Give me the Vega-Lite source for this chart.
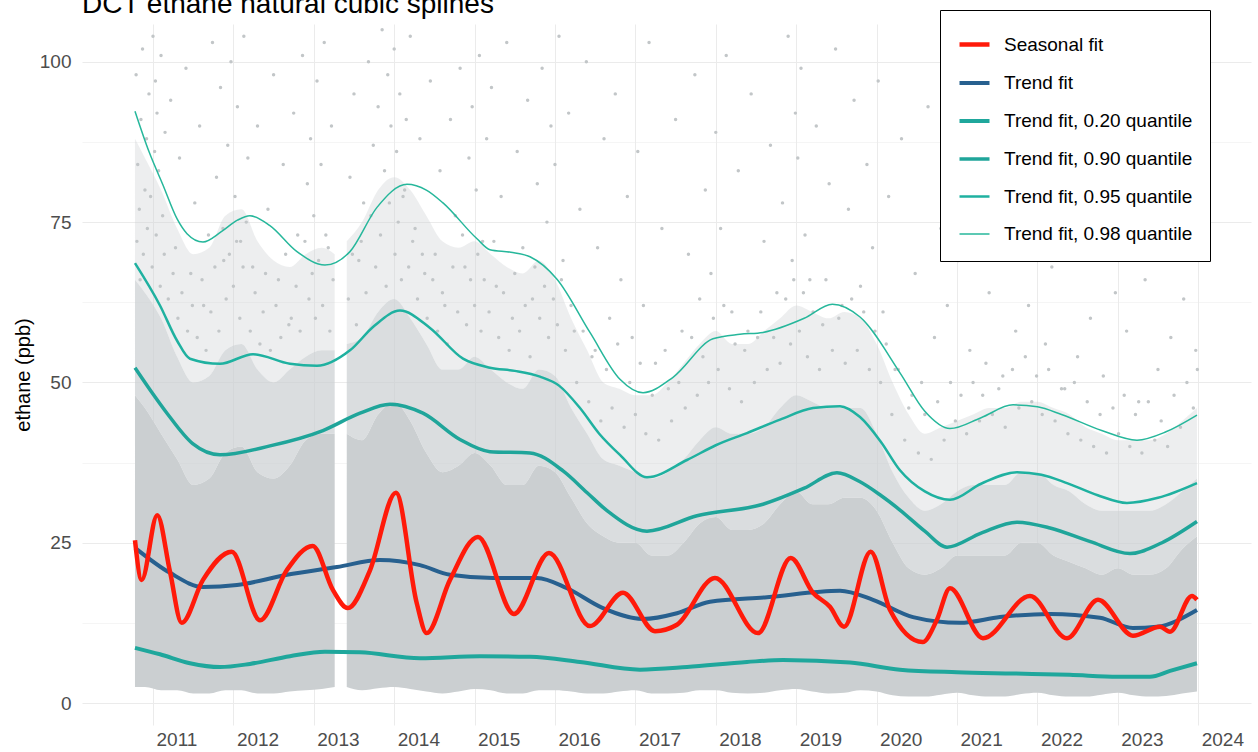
{
  "$schema": "https://vega.github.io/schema/vega-lite/v6.json",
  "width": 1169,
  "height": 701,
  "autosize": {"type": "none"},
  "padding": {"left": 82, "top": 24, "right": 7, "bottom": 27},
  "background": "white",
  "title": {"text": "DCT ethane natural cubic splines", "anchor": "start", "frame": "group", "fontSize": 28, "font": "Liberation Sans", "fontWeight": "normal", "color": "#000000", "baseline": "alphabetic", "offset": -31},
  "config": {
    "view": {"stroke": null},
    "font": "Liberation Sans",
    "axis": {"domain": false, "ticks": false, "gridColor": "#ebebeb", "labelFont": "Liberation Sans", "labelFontSize": 19, "labelColor": "#4d4d4d", "titleFont": "Liberation Sans", "titleFontSize": 20, "titleFontWeight": "normal", "titleColor": "#000000"}
  },
  "datasets": {
    "band": [
      {"seg": "a", "t": 2010.776, "lo": 2.5, "h1": 48, "h2": 66, "h3": 88},
      {"seg": "a", "t": 2010.9, "lo": 2.5, "h1": 46, "h2": 64, "h3": 85},
      {"seg": "a", "t": 2011.1, "lo": 2.0, "h1": 42, "h2": 60, "h3": 80},
      {"seg": "a", "t": 2011.3, "lo": 2.0, "h1": 38, "h2": 54, "h3": 74},
      {"seg": "a", "t": 2011.5, "lo": 1.5, "h1": 34, "h2": 50, "h3": 70},
      {"seg": "a", "t": 2011.7, "lo": 1.5, "h1": 35, "h2": 51, "h3": 71},
      {"seg": "a", "t": 2011.9, "lo": 2.0, "h1": 39, "h2": 55, "h3": 76},
      {"seg": "a", "t": 2012.1, "lo": 2.0, "h1": 40, "h2": 56, "h3": 77},
      {"seg": "a", "t": 2012.3, "lo": 1.5, "h1": 36, "h2": 52, "h3": 72},
      {"seg": "a", "t": 2012.5, "lo": 1.5, "h1": 35, "h2": 50, "h3": 69},
      {"seg": "a", "t": 2012.7, "lo": 1.8, "h1": 37, "h2": 52, "h3": 68},
      {"seg": "a", "t": 2012.9, "lo": 2.0, "h1": 41, "h2": 54, "h3": 70},
      {"seg": "a", "t": 2013.1, "lo": 2.2, "h1": 42, "h2": 55, "h3": 71},
      {"seg": "a", "t": 2013.26, "lo": 2.5, "h1": 42, "h2": 55, "h3": 70},
      {"seg": "b", "t": 2013.41, "lo": 2.5, "h1": 42, "h2": 56, "h3": 72},
      {"seg": "b", "t": 2013.6, "lo": 2.0, "h1": 41, "h2": 57, "h3": 75},
      {"seg": "b", "t": 2013.8, "lo": 2.3, "h1": 45, "h2": 61, "h3": 80},
      {"seg": "b", "t": 2014.0, "lo": 2.5, "h1": 47, "h2": 63, "h3": 82},
      {"seg": "b", "t": 2014.2, "lo": 2.2, "h1": 44, "h2": 60, "h3": 80},
      {"seg": "b", "t": 2014.4, "lo": 1.8, "h1": 39, "h2": 56, "h3": 76},
      {"seg": "b", "t": 2014.6, "lo": 1.5, "h1": 36, "h2": 52, "h3": 72},
      {"seg": "b", "t": 2014.8, "lo": 1.8, "h1": 37, "h2": 52, "h3": 71},
      {"seg": "b", "t": 2015.0, "lo": 2.2, "h1": 39, "h2": 54, "h3": 72},
      {"seg": "b", "t": 2015.2, "lo": 2.0, "h1": 37, "h2": 52, "h3": 70},
      {"seg": "b", "t": 2015.4, "lo": 1.5, "h1": 34, "h2": 50, "h3": 68},
      {"seg": "b", "t": 2015.6, "lo": 1.5, "h1": 34, "h2": 49, "h3": 67},
      {"seg": "b", "t": 2015.8, "lo": 2.0, "h1": 37, "h2": 52, "h3": 69},
      {"seg": "b", "t": 2016.0, "lo": 2.0, "h1": 36, "h2": 51, "h3": 66},
      {"seg": "b", "t": 2016.2, "lo": 1.8, "h1": 32, "h2": 46, "h3": 60},
      {"seg": "b", "t": 2016.4, "lo": 1.5, "h1": 28, "h2": 42, "h3": 55},
      {"seg": "b", "t": 2016.6, "lo": 1.5, "h1": 26, "h2": 38, "h3": 50},
      {"seg": "b", "t": 2016.8, "lo": 1.8, "h1": 25, "h2": 37, "h3": 49},
      {"seg": "b", "t": 2017.0, "lo": 2.0, "h1": 25, "h2": 36, "h3": 48},
      {"seg": "b", "t": 2017.2, "lo": 1.5, "h1": 23, "h2": 35, "h3": 48},
      {"seg": "b", "t": 2017.4, "lo": 1.5, "h1": 23, "h2": 36, "h3": 50},
      {"seg": "b", "t": 2017.6, "lo": 1.6, "h1": 25, "h2": 38, "h3": 53},
      {"seg": "b", "t": 2017.8, "lo": 2.0, "h1": 28, "h2": 41, "h3": 56},
      {"seg": "b", "t": 2018.0, "lo": 2.0, "h1": 29, "h2": 43, "h3": 58},
      {"seg": "b", "t": 2018.2, "lo": 1.6, "h1": 27, "h2": 42, "h3": 56},
      {"seg": "b", "t": 2018.4, "lo": 1.5, "h1": 27, "h2": 42, "h3": 56},
      {"seg": "b", "t": 2018.6, "lo": 1.6, "h1": 28, "h2": 43, "h3": 58},
      {"seg": "b", "t": 2018.8, "lo": 2.0, "h1": 31, "h2": 46, "h3": 60},
      {"seg": "b", "t": 2019.0, "lo": 2.2, "h1": 33, "h2": 48, "h3": 62},
      {"seg": "b", "t": 2019.2, "lo": 1.8, "h1": 31, "h2": 47, "h3": 61},
      {"seg": "b", "t": 2019.4, "lo": 1.5, "h1": 31, "h2": 46, "h3": 60},
      {"seg": "b", "t": 2019.6, "lo": 1.6, "h1": 32, "h2": 46, "h3": 61},
      {"seg": "b", "t": 2019.8, "lo": 2.0, "h1": 32, "h2": 46, "h3": 60},
      {"seg": "b", "t": 2020.0, "lo": 1.8, "h1": 30, "h2": 42, "h3": 56},
      {"seg": "b", "t": 2020.2, "lo": 1.2, "h1": 25, "h2": 36, "h3": 50},
      {"seg": "b", "t": 2020.4, "lo": 1.0, "h1": 21, "h2": 32, "h3": 45},
      {"seg": "b", "t": 2020.6, "lo": 1.0, "h1": 20, "h2": 30, "h3": 42},
      {"seg": "b", "t": 2020.8, "lo": 1.3, "h1": 21, "h2": 31, "h3": 43},
      {"seg": "b", "t": 2021.0, "lo": 1.6, "h1": 23, "h2": 33, "h3": 44},
      {"seg": "b", "t": 2021.2, "lo": 1.2, "h1": 23, "h2": 34, "h3": 45},
      {"seg": "b", "t": 2021.4, "lo": 1.0, "h1": 23, "h2": 34, "h3": 46},
      {"seg": "b", "t": 2021.6, "lo": 1.0, "h1": 23, "h2": 34, "h3": 46},
      {"seg": "b", "t": 2021.8, "lo": 1.4, "h1": 25, "h2": 36, "h3": 47},
      {"seg": "b", "t": 2022.0, "lo": 1.6, "h1": 25, "h2": 36, "h3": 47},
      {"seg": "b", "t": 2022.2, "lo": 1.2, "h1": 23, "h2": 34, "h3": 46},
      {"seg": "b", "t": 2022.4, "lo": 1.0, "h1": 22, "h2": 33, "h3": 45},
      {"seg": "b", "t": 2022.6, "lo": 1.0, "h1": 21, "h2": 31, "h3": 43},
      {"seg": "b", "t": 2022.8, "lo": 1.3, "h1": 20, "h2": 30, "h3": 42},
      {"seg": "b", "t": 2023.0, "lo": 1.6, "h1": 21, "h2": 30, "h3": 41},
      {"seg": "b", "t": 2023.2, "lo": 1.2, "h1": 20, "h2": 30, "h3": 41},
      {"seg": "b", "t": 2023.4, "lo": 1.0, "h1": 20, "h2": 30, "h3": 41},
      {"seg": "b", "t": 2023.6, "lo": 1.1, "h1": 21, "h2": 31, "h3": 42},
      {"seg": "b", "t": 2023.8, "lo": 1.5, "h1": 24, "h2": 33, "h3": 44},
      {"seg": "b", "t": 2023.985, "lo": 1.8, "h1": 26, "h2": 35, "h3": 46}
    ],
    "pts": [
      {"t": 2010.79, "v": 98}, {"t": 2010.81, "v": 84}, {"t": 2010.83, "v": 77}, {"t": 2010.85, "v": 91}, {"t": 2010.87, "v": 102}, {"t": 2010.9, "v": 80}, {"t": 2010.92, "v": 88}, {"t": 2010.95, "v": 95}, {"t": 2010.97, "v": 79}, {"t": 2011.0, "v": 104}, {"t": 2011.02, "v": 86}, {"t": 2011.03, "v": 97}, {"t": 2011.05, "v": 92}, {"t": 2011.07, "v": 83}, {"t": 2011.1, "v": 101}, {"t": 2011.12, "v": 76}, {"t": 2011.15, "v": 89},
      {"t": 2011.22, "v": 94}, {"t": 2011.28, "v": 71}, {"t": 2011.33, "v": 85}, {"t": 2011.41, "v": 99}, {"t": 2011.47, "v": 67}, {"t": 2011.52, "v": 78}, {"t": 2011.58, "v": 90}, {"t": 2011.63, "v": 62}, {"t": 2011.69, "v": 73}, {"t": 2011.74, "v": 103}, {"t": 2011.79, "v": 82}, {"t": 2011.84, "v": 96}, {"t": 2011.88, "v": 69}, {"t": 2011.93, "v": 87},
      {"t": 2011.97, "v": 100}, {"t": 2012.02, "v": 79}, {"t": 2012.05, "v": 93}, {"t": 2012.09, "v": 72}, {"t": 2012.13, "v": 104}, {"t": 2012.18, "v": 85}, {"t": 2012.24, "v": 68}, {"t": 2012.3, "v": 90}, {"t": 2012.37, "v": 61}, {"t": 2012.43, "v": 77}, {"t": 2012.5, "v": 98}, {"t": 2012.56, "v": 66}, {"t": 2012.62, "v": 84}, {"t": 2012.69, "v": 59}, {"t": 2012.75, "v": 92}, {"t": 2012.8, "v": 73}, {"t": 2012.86, "v": 101}, {"t": 2012.92, "v": 81}, {"t": 2012.96, "v": 88},
      {"t": 2013.0, "v": 76}, {"t": 2013.04, "v": 97}, {"t": 2013.09, "v": 84}, {"t": 2013.13, "v": 103}, {"t": 2013.18, "v": 71}, {"t": 2013.22, "v": 90}, {"t": 2013.45, "v": 82}, {"t": 2013.5, "v": 95}, {"t": 2013.56, "v": 69}, {"t": 2013.62, "v": 78}, {"t": 2013.68, "v": 100}, {"t": 2013.74, "v": 87}, {"t": 2013.8, "v": 93}, {"t": 2013.85, "v": 105}, {"t": 2013.88, "v": 83}, {"t": 2013.92, "v": 98}, {"t": 2013.96, "v": 90},
      {"t": 2014.0, "v": 102}, {"t": 2014.03, "v": 86}, {"t": 2014.07, "v": 95}, {"t": 2014.11, "v": 79}, {"t": 2014.15, "v": 91}, {"t": 2014.2, "v": 104}, {"t": 2014.26, "v": 74}, {"t": 2014.32, "v": 88}, {"t": 2014.38, "v": 67}, {"t": 2014.45, "v": 97}, {"t": 2014.51, "v": 70}, {"t": 2014.57, "v": 83}, {"t": 2014.63, "v": 62}, {"t": 2014.7, "v": 91}, {"t": 2014.76, "v": 76}, {"t": 2014.82, "v": 99}, {"t": 2014.88, "v": 68}, {"t": 2014.93, "v": 85}, {"t": 2014.97, "v": 93},
      {"t": 2015.02, "v": 80}, {"t": 2015.06, "v": 101}, {"t": 2015.1, "v": 72}, {"t": 2015.15, "v": 88}, {"t": 2015.21, "v": 96}, {"t": 2015.27, "v": 65}, {"t": 2015.33, "v": 79}, {"t": 2015.4, "v": 103}, {"t": 2015.47, "v": 60}, {"t": 2015.53, "v": 86}, {"t": 2015.6, "v": 71}, {"t": 2015.66, "v": 94}, {"t": 2015.72, "v": 63}, {"t": 2015.78, "v": 81}, {"t": 2015.84, "v": 99}, {"t": 2015.9, "v": 75}, {"t": 2015.95, "v": 90},
      {"t": 2016.0, "v": 84}, {"t": 2016.05, "v": 104}, {"t": 2016.1, "v": 69}, {"t": 2016.17, "v": 92}, {"t": 2016.24, "v": 58}, {"t": 2016.31, "v": 77}, {"t": 2016.39, "v": 100}, {"t": 2016.46, "v": 54}, {"t": 2016.53, "v": 71}, {"t": 2016.61, "v": 88}, {"t": 2016.68, "v": 60}, {"t": 2016.75, "v": 95}, {"t": 2016.82, "v": 66}, {"t": 2016.9, "v": 79}, {"t": 2016.96, "v": 57},
      {"t": 2017.03, "v": 86}, {"t": 2017.1, "v": 62}, {"t": 2017.17, "v": 103}, {"t": 2017.25, "v": 53}, {"t": 2017.33, "v": 74}, {"t": 2017.41, "v": 49}, {"t": 2017.5, "v": 91}, {"t": 2017.58, "v": 58}, {"t": 2017.66, "v": 70}, {"t": 2017.74, "v": 98}, {"t": 2017.8, "v": 63}, {"t": 2017.87, "v": 80}, {"t": 2017.94, "v": 67},
      {"t": 2018.0, "v": 89}, {"t": 2018.06, "v": 74}, {"t": 2018.13, "v": 101}, {"t": 2018.2, "v": 61}, {"t": 2018.28, "v": 83}, {"t": 2018.36, "v": 55}, {"t": 2018.44, "v": 95}, {"t": 2018.52, "v": 57}, {"t": 2018.6, "v": 72}, {"t": 2018.68, "v": 87}, {"t": 2018.76, "v": 64}, {"t": 2018.83, "v": 78}, {"t": 2018.9, "v": 104}, {"t": 2018.95, "v": 69}, {"t": 2018.99, "v": 92},
      {"t": 2019.02, "v": 85}, {"t": 2019.06, "v": 99}, {"t": 2019.11, "v": 73}, {"t": 2019.17, "v": 66}, {"t": 2019.25, "v": 90}, {"t": 2019.33, "v": 59}, {"t": 2019.41, "v": 81}, {"t": 2019.49, "v": 102}, {"t": 2019.57, "v": 62}, {"t": 2019.65, "v": 77}, {"t": 2019.72, "v": 94}, {"t": 2019.8, "v": 65}, {"t": 2019.88, "v": 84}, {"t": 2019.95, "v": 71},
      {"t": 2020.02, "v": 97}, {"t": 2020.08, "v": 61}, {"t": 2020.15, "v": 79}, {"t": 2020.23, "v": 52}, {"t": 2020.31, "v": 88}, {"t": 2020.4, "v": 46}, {"t": 2020.48, "v": 67}, {"t": 2020.56, "v": 50}, {"t": 2020.64, "v": 93}, {"t": 2020.72, "v": 57}, {"t": 2020.8, "v": 74}, {"t": 2020.88, "v": 62}, {"t": 2020.95, "v": 84},
      {"t": 2021.02, "v": 69}, {"t": 2021.09, "v": 101}, {"t": 2021.16, "v": 55}, {"t": 2021.24, "v": 78}, {"t": 2021.32, "v": 48}, {"t": 2021.4, "v": 64}, {"t": 2021.48, "v": 86}, {"t": 2021.57, "v": 51}, {"t": 2021.65, "v": 72}, {"t": 2021.73, "v": 58}, {"t": 2021.81, "v": 95}, {"t": 2021.89, "v": 62}, {"t": 2021.96, "v": 76},
      {"t": 2022.03, "v": 83}, {"t": 2022.1, "v": 56}, {"t": 2022.18, "v": 68}, {"t": 2022.26, "v": 99}, {"t": 2022.34, "v": 49}, {"t": 2022.42, "v": 73}, {"t": 2022.5, "v": 54}, {"t": 2022.58, "v": 88}, {"t": 2022.66, "v": 60}, {"t": 2022.74, "v": 71}, {"t": 2022.82, "v": 51}, {"t": 2022.9, "v": 80}, {"t": 2022.97, "v": 64},
      {"t": 2023.04, "v": 92}, {"t": 2023.11, "v": 58}, {"t": 2023.18, "v": 75}, {"t": 2023.26, "v": 47}, {"t": 2023.34, "v": 66}, {"t": 2023.42, "v": 85}, {"t": 2023.5, "v": 52}, {"t": 2023.58, "v": 70}, {"t": 2023.66, "v": 57}, {"t": 2023.74, "v": 97}, {"t": 2023.82, "v": 63}, {"t": 2023.9, "v": 78}, {"t": 2023.97, "v": 55},
      {"t": 2010.8, "v": 72}, {"t": 2010.84, "v": 66}, {"t": 2010.88, "v": 70}, {"t": 2010.93, "v": 74}, {"t": 2010.99, "v": 68}, {"t": 2011.04, "v": 73}, {"t": 2011.09, "v": 65}, {"t": 2011.14, "v": 70}, {"t": 2011.19, "v": 63}, {"t": 2011.25, "v": 67}, {"t": 2011.31, "v": 60}, {"t": 2011.36, "v": 64}, {"t": 2011.43, "v": 58}, {"t": 2011.49, "v": 62}, {"t": 2011.55, "v": 57}, {"t": 2011.61, "v": 66}, {"t": 2011.66, "v": 55}, {"t": 2011.72, "v": 61}, {"t": 2011.77, "v": 68}, {"t": 2011.82, "v": 58}, {"t": 2011.87, "v": 74}, {"t": 2011.91, "v": 63}, {"t": 2011.95, "v": 70},
      {"t": 2012.0, "v": 65}, {"t": 2012.04, "v": 72}, {"t": 2012.08, "v": 60}, {"t": 2012.12, "v": 68}, {"t": 2012.16, "v": 75}, {"t": 2012.21, "v": 58}, {"t": 2012.27, "v": 64}, {"t": 2012.33, "v": 56}, {"t": 2012.4, "v": 67}, {"t": 2012.46, "v": 55}, {"t": 2012.53, "v": 62}, {"t": 2012.59, "v": 57}, {"t": 2012.65, "v": 70}, {"t": 2012.72, "v": 60}, {"t": 2012.78, "v": 65}, {"t": 2012.83, "v": 58}, {"t": 2012.89, "v": 72}, {"t": 2012.94, "v": 63}, {"t": 2012.98, "v": 67},
      {"t": 2013.02, "v": 60}, {"t": 2013.06, "v": 69}, {"t": 2013.11, "v": 62}, {"t": 2013.15, "v": 73}, {"t": 2013.2, "v": 58}, {"t": 2013.24, "v": 66}, {"t": 2013.43, "v": 63}, {"t": 2013.48, "v": 70}, {"t": 2013.53, "v": 59}, {"t": 2013.59, "v": 72}, {"t": 2013.65, "v": 64}, {"t": 2013.71, "v": 76}, {"t": 2013.77, "v": 68}, {"t": 2013.83, "v": 73}, {"t": 2013.9, "v": 65}, {"t": 2013.94, "v": 78},
      {"t": 2014.01, "v": 70}, {"t": 2014.05, "v": 75}, {"t": 2014.09, "v": 66}, {"t": 2014.13, "v": 80}, {"t": 2014.18, "v": 68}, {"t": 2014.23, "v": 72}, {"t": 2014.29, "v": 63}, {"t": 2014.35, "v": 70}, {"t": 2014.41, "v": 60}, {"t": 2014.48, "v": 66}, {"t": 2014.54, "v": 58}, {"t": 2014.6, "v": 64}, {"t": 2014.66, "v": 56}, {"t": 2014.73, "v": 68}, {"t": 2014.79, "v": 61}, {"t": 2014.85, "v": 73}, {"t": 2014.9, "v": 59}, {"t": 2014.95, "v": 66},
      {"t": 2015.0, "v": 62}, {"t": 2015.04, "v": 70}, {"t": 2015.08, "v": 58}, {"t": 2015.12, "v": 66}, {"t": 2015.18, "v": 61}, {"t": 2015.24, "v": 72}, {"t": 2015.3, "v": 57}, {"t": 2015.36, "v": 64}, {"t": 2015.43, "v": 55}, {"t": 2015.5, "v": 67}, {"t": 2015.56, "v": 58}, {"t": 2015.63, "v": 62}, {"t": 2015.69, "v": 54}, {"t": 2015.75, "v": 68}, {"t": 2015.81, "v": 60}, {"t": 2015.87, "v": 65}, {"t": 2015.92, "v": 57}, {"t": 2015.98, "v": 63},
      {"t": 2016.03, "v": 59}, {"t": 2016.08, "v": 66}, {"t": 2016.13, "v": 55}, {"t": 2016.2, "v": 62}, {"t": 2016.27, "v": 50}, {"t": 2016.35, "v": 58}, {"t": 2016.42, "v": 47}, {"t": 2016.5, "v": 55}, {"t": 2016.57, "v": 44}, {"t": 2016.64, "v": 52}, {"t": 2016.71, "v": 46}, {"t": 2016.78, "v": 56}, {"t": 2016.86, "v": 43}, {"t": 2016.93, "v": 50},
      {"t": 2017.0, "v": 45}, {"t": 2017.06, "v": 53}, {"t": 2017.13, "v": 42}, {"t": 2017.21, "v": 48}, {"t": 2017.29, "v": 41}, {"t": 2017.37, "v": 55}, {"t": 2017.45, "v": 44}, {"t": 2017.54, "v": 50}, {"t": 2017.62, "v": 46}, {"t": 2017.7, "v": 57}, {"t": 2017.77, "v": 48}, {"t": 2017.84, "v": 54}, {"t": 2017.91, "v": 50}, {"t": 2017.97, "v": 60},
      {"t": 2018.03, "v": 52}, {"t": 2018.1, "v": 62}, {"t": 2018.17, "v": 49}, {"t": 2018.24, "v": 56}, {"t": 2018.32, "v": 47}, {"t": 2018.4, "v": 58}, {"t": 2018.48, "v": 50}, {"t": 2018.56, "v": 61}, {"t": 2018.64, "v": 52}, {"t": 2018.72, "v": 57}, {"t": 2018.8, "v": 53}, {"t": 2018.87, "v": 63}, {"t": 2018.93, "v": 56}, {"t": 2018.97, "v": 66},
      {"t": 2019.04, "v": 58}, {"t": 2019.09, "v": 64}, {"t": 2019.14, "v": 54}, {"t": 2019.21, "v": 61}, {"t": 2019.29, "v": 52}, {"t": 2019.37, "v": 66}, {"t": 2019.45, "v": 55}, {"t": 2019.53, "v": 60}, {"t": 2019.61, "v": 53}, {"t": 2019.69, "v": 63}, {"t": 2019.76, "v": 55}, {"t": 2019.84, "v": 61}, {"t": 2019.91, "v": 52}, {"t": 2019.98, "v": 58},
      {"t": 2020.05, "v": 50}, {"t": 2020.12, "v": 56}, {"t": 2020.19, "v": 45}, {"t": 2020.27, "v": 52}, {"t": 2020.35, "v": 41}, {"t": 2020.44, "v": 48}, {"t": 2020.52, "v": 39}, {"t": 2020.6, "v": 45}, {"t": 2020.68, "v": 38}, {"t": 2020.76, "v": 47}, {"t": 2020.84, "v": 41}, {"t": 2020.92, "v": 50}, {"t": 2020.98, "v": 44},
      {"t": 2021.05, "v": 48}, {"t": 2021.12, "v": 42}, {"t": 2021.2, "v": 50}, {"t": 2021.28, "v": 44}, {"t": 2021.36, "v": 53}, {"t": 2021.44, "v": 45}, {"t": 2021.52, "v": 49}, {"t": 2021.6, "v": 43}, {"t": 2021.69, "v": 52}, {"t": 2021.77, "v": 46}, {"t": 2021.85, "v": 54}, {"t": 2021.93, "v": 47}, {"t": 2021.99, "v": 51},
      {"t": 2022.06, "v": 45}, {"t": 2022.14, "v": 52}, {"t": 2022.22, "v": 44}, {"t": 2022.3, "v": 49}, {"t": 2022.38, "v": 42}, {"t": 2022.46, "v": 50}, {"t": 2022.54, "v": 41}, {"t": 2022.62, "v": 47}, {"t": 2022.7, "v": 40}, {"t": 2022.78, "v": 45}, {"t": 2022.86, "v": 39}, {"t": 2022.94, "v": 46},
      {"t": 2023.01, "v": 42}, {"t": 2023.08, "v": 48}, {"t": 2023.15, "v": 40}, {"t": 2023.22, "v": 45}, {"t": 2023.3, "v": 39}, {"t": 2023.38, "v": 47}, {"t": 2023.46, "v": 41}, {"t": 2023.54, "v": 44}, {"t": 2023.62, "v": 40}, {"t": 2023.7, "v": 48}, {"t": 2023.78, "v": 43}, {"t": 2023.86, "v": 50}, {"t": 2023.94, "v": 46}, {"t": 2023.99, "v": 52}
    ],
    "fits": [
      {"s": "Trend fit, 0.98 quantile", "t": 2010.776, "v": 92.3}, {"s": "Trend fit, 0.98 quantile", "t": 2010.95, "v": 86}, {"s": "Trend fit, 0.98 quantile", "t": 2011.124, "v": 80.8}, {"s": "Trend fit, 0.98 quantile", "t": 2011.3, "v": 75.5}, {"s": "Trend fit, 0.98 quantile", "t": 2011.423, "v": 73.2}, {"s": "Trend fit, 0.98 quantile", "t": 2011.622, "v": 71.9}, {"s": "Trend fit, 0.98 quantile", "t": 2011.85, "v": 73.5}, {"s": "Trend fit, 0.98 quantile", "t": 2012.05, "v": 75.3}, {"s": "Trend fit, 0.98 quantile", "t": 2012.206, "v": 76.0}, {"s": "Trend fit, 0.98 quantile", "t": 2012.45, "v": 74.5}, {"s": "Trend fit, 0.98 quantile", "t": 2012.791, "v": 70.4}, {"s": "Trend fit, 0.98 quantile", "t": 2013.139, "v": 68.3}, {"s": "Trend fit, 0.98 quantile", "t": 2013.45, "v": 70.4}, {"s": "Trend fit, 0.98 quantile", "t": 2013.786, "v": 77.3}, {"s": "Trend fit, 0.98 quantile", "t": 2014.159, "v": 80.9}, {"s": "Trend fit, 0.98 quantile", "t": 2014.4, "v": 80.0}, {"s": "Trend fit, 0.98 quantile", "t": 2014.607, "v": 78.0}, {"s": "Trend fit, 0.98 quantile", "t": 2015.03, "v": 72.4}, {"s": "Trend fit, 0.98 quantile", "t": 2015.191, "v": 70.7}, {"s": "Trend fit, 0.98 quantile", "t": 2015.45, "v": 70.3}, {"s": "Trend fit, 0.98 quantile", "t": 2015.689, "v": 69.6}, {"s": "Trend fit, 0.98 quantile", "t": 2016.025, "v": 66.1}, {"s": "Trend fit, 0.98 quantile", "t": 2016.435, "v": 57.8}, {"s": "Trend fit, 0.98 quantile", "t": 2016.808, "v": 50.5}, {"s": "Trend fit, 0.98 quantile", "t": 2017.095, "v": 48.4}, {"s": "Trend fit, 0.98 quantile", "t": 2017.468, "v": 50.8}, {"s": "Trend fit, 0.98 quantile", "t": 2017.965, "v": 56.8}, {"s": "Trend fit, 0.98 quantile", "t": 2018.3, "v": 57.5}, {"s": "Trend fit, 0.98 quantile", "t": 2018.587, "v": 57.8}, {"s": "Trend fit, 0.98 quantile", "t": 2019.1, "v": 60.0}, {"s": "Trend fit, 0.98 quantile", "t": 2019.45, "v": 62.2}, {"s": "Trend fit, 0.98 quantile", "t": 2019.794, "v": 60.2}, {"s": "Trend fit, 0.98 quantile", "t": 2020.291, "v": 51.5}, {"s": "Trend fit, 0.98 quantile", "t": 2020.6, "v": 45.5}, {"s": "Trend fit, 0.98 quantile", "t": 2020.913, "v": 42.8}, {"s": "Trend fit, 0.98 quantile", "t": 2021.3, "v": 44.5}, {"s": "Trend fit, 0.98 quantile", "t": 2021.697, "v": 46.5}, {"s": "Trend fit, 0.98 quantile", "t": 2022.0, "v": 46.2}, {"s": "Trend fit, 0.98 quantile", "t": 2022.3, "v": 45.0}, {"s": "Trend fit, 0.98 quantile", "t": 2022.8, "v": 42.5}, {"s": "Trend fit, 0.98 quantile", "t": 2023.239, "v": 41.0}, {"s": "Trend fit, 0.98 quantile", "t": 2023.6, "v": 42.3}, {"s": "Trend fit, 0.98 quantile", "t": 2023.985, "v": 44.9},
      {"s": "Trend fit, 0.95 quantile", "t": 2010.776, "v": 68.6}, {"s": "Trend fit, 0.95 quantile", "t": 2011.087, "v": 62.0}, {"s": "Trend fit, 0.95 quantile", "t": 2011.3, "v": 56.5}, {"s": "Trend fit, 0.95 quantile", "t": 2011.46, "v": 53.7}, {"s": "Trend fit, 0.95 quantile", "t": 2011.833, "v": 52.9}, {"s": "Trend fit, 0.95 quantile", "t": 2012.244, "v": 54.4}, {"s": "Trend fit, 0.95 quantile", "t": 2012.704, "v": 52.9}, {"s": "Trend fit, 0.95 quantile", "t": 2013.04, "v": 52.6}, {"s": "Trend fit, 0.95 quantile", "t": 2013.45, "v": 55.0}, {"s": "Trend fit, 0.95 quantile", "t": 2013.75, "v": 58.8}, {"s": "Trend fit, 0.95 quantile", "t": 2014.072, "v": 61.2}, {"s": "Trend fit, 0.95 quantile", "t": 2014.445, "v": 58.5}, {"s": "Trend fit, 0.95 quantile", "t": 2014.856, "v": 53.7}, {"s": "Trend fit, 0.95 quantile", "t": 2015.191, "v": 52.3}, {"s": "Trend fit, 0.95 quantile", "t": 2015.5, "v": 51.8}, {"s": "Trend fit, 0.95 quantile", "t": 2015.813, "v": 50.9}, {"s": "Trend fit, 0.95 quantile", "t": 2016.05, "v": 49.5}, {"s": "Trend fit, 0.95 quantile", "t": 2016.311, "v": 46.0}, {"s": "Trend fit, 0.95 quantile", "t": 2016.55, "v": 42.0}, {"s": "Trend fit, 0.95 quantile", "t": 2016.808, "v": 38.7}, {"s": "Trend fit, 0.95 quantile", "t": 2017.144, "v": 35.2}, {"s": "Trend fit, 0.95 quantile", "t": 2017.642, "v": 37.9}, {"s": "Trend fit, 0.95 quantile", "t": 2018.0, "v": 40.2}, {"s": "Trend fit, 0.95 quantile", "t": 2018.388, "v": 42.1}, {"s": "Trend fit, 0.95 quantile", "t": 2018.8, "v": 44.2}, {"s": "Trend fit, 0.95 quantile", "t": 2019.209, "v": 46.0}, {"s": "Trend fit, 0.95 quantile", "t": 2019.545, "v": 46.3}, {"s": "Trend fit, 0.95 quantile", "t": 2019.794, "v": 44.6}, {"s": "Trend fit, 0.95 quantile", "t": 2020.05, "v": 40.8}, {"s": "Trend fit, 0.95 quantile", "t": 2020.291, "v": 36.3}, {"s": "Trend fit, 0.95 quantile", "t": 2020.6, "v": 33.0}, {"s": "Trend fit, 0.95 quantile", "t": 2020.913, "v": 31.7}, {"s": "Trend fit, 0.95 quantile", "t": 2021.3, "v": 34.2}, {"s": "Trend fit, 0.95 quantile", "t": 2021.746, "v": 36.0}, {"s": "Trend fit, 0.95 quantile", "t": 2022.05, "v": 35.6}, {"s": "Trend fit, 0.95 quantile", "t": 2022.368, "v": 34.3}, {"s": "Trend fit, 0.95 quantile", "t": 2022.75, "v": 32.4}, {"s": "Trend fit, 0.95 quantile", "t": 2023.114, "v": 31.2}, {"s": "Trend fit, 0.95 quantile", "t": 2023.5, "v": 32.0}, {"s": "Trend fit, 0.95 quantile", "t": 2023.985, "v": 34.3},
      {"s": "Trend fit, 0.90 quantile", "t": 2010.776, "v": 52.3}, {"s": "Trend fit, 0.90 quantile", "t": 2011.0, "v": 48.2}, {"s": "Trend fit, 0.90 quantile", "t": 2011.174, "v": 45.2}, {"s": "Trend fit, 0.90 quantile", "t": 2011.498, "v": 40.4}, {"s": "Trend fit, 0.90 quantile", "t": 2011.833, "v": 38.7}, {"s": "Trend fit, 0.90 quantile", "t": 2012.455, "v": 40.1}, {"s": "Trend fit, 0.90 quantile", "t": 2013.114, "v": 42.5}, {"s": "Trend fit, 0.90 quantile", "t": 2013.575, "v": 45.2}, {"s": "Trend fit, 0.90 quantile", "t": 2013.948, "v": 46.6}, {"s": "Trend fit, 0.90 quantile", "t": 2014.358, "v": 45.2}, {"s": "Trend fit, 0.90 quantile", "t": 2014.818, "v": 41.1}, {"s": "Trend fit, 0.90 quantile", "t": 2015.191, "v": 39.2}, {"s": "Trend fit, 0.90 quantile", "t": 2015.689, "v": 39.0}, {"s": "Trend fit, 0.90 quantile", "t": 2016.1, "v": 36.2}, {"s": "Trend fit, 0.90 quantile", "t": 2016.4, "v": 32.8}, {"s": "Trend fit, 0.90 quantile", "t": 2016.647, "v": 30.0}, {"s": "Trend fit, 0.90 quantile", "t": 2017.144, "v": 26.8}, {"s": "Trend fit, 0.90 quantile", "t": 2017.766, "v": 29.2}, {"s": "Trend fit, 0.90 quantile", "t": 2018.587, "v": 31.0}, {"s": "Trend fit, 0.90 quantile", "t": 2019.1, "v": 33.5}, {"s": "Trend fit, 0.90 quantile", "t": 2019.507, "v": 35.9}, {"s": "Trend fit, 0.90 quantile", "t": 2019.794, "v": 34.5}, {"s": "Trend fit, 0.90 quantile", "t": 2020.05, "v": 32.4}, {"s": "Trend fit, 0.90 quantile", "t": 2020.291, "v": 30.1}, {"s": "Trend fit, 0.90 quantile", "t": 2020.6, "v": 26.8}, {"s": "Trend fit, 0.90 quantile", "t": 2020.876, "v": 24.3}, {"s": "Trend fit, 0.90 quantile", "t": 2021.3, "v": 26.5}, {"s": "Trend fit, 0.90 quantile", "t": 2021.746, "v": 28.2}, {"s": "Trend fit, 0.90 quantile", "t": 2022.157, "v": 27.3}, {"s": "Trend fit, 0.90 quantile", "t": 2022.65, "v": 25.2}, {"s": "Trend fit, 0.90 quantile", "t": 2023.152, "v": 23.3}, {"s": "Trend fit, 0.90 quantile", "t": 2023.55, "v": 25.0}, {"s": "Trend fit, 0.90 quantile", "t": 2023.985, "v": 28.3},
      {"s": "Trend fit, 0.20 quantile", "t": 2010.776, "v": 8.6}, {"s": "Trend fit, 0.20 quantile", "t": 2011.087, "v": 7.6}, {"s": "Trend fit, 0.20 quantile", "t": 2011.46, "v": 6.2}, {"s": "Trend fit, 0.20 quantile", "t": 2011.833, "v": 5.6}, {"s": "Trend fit, 0.20 quantile", "t": 2012.206, "v": 6.1}, {"s": "Trend fit, 0.20 quantile", "t": 2012.704, "v": 7.3}, {"s": "Trend fit, 0.20 quantile", "t": 2013.139, "v": 8.0}, {"s": "Trend fit, 0.20 quantile", "t": 2013.575, "v": 7.9}, {"s": "Trend fit, 0.20 quantile", "t": 2014.321, "v": 7.0}, {"s": "Trend fit, 0.20 quantile", "t": 2015.067, "v": 7.3}, {"s": "Trend fit, 0.20 quantile", "t": 2015.689, "v": 7.2}, {"s": "Trend fit, 0.20 quantile", "t": 2016.311, "v": 6.4}, {"s": "Trend fit, 0.20 quantile", "t": 2017.057, "v": 5.2}, {"s": "Trend fit, 0.20 quantile", "t": 2017.642, "v": 5.6}, {"s": "Trend fit, 0.20 quantile", "t": 2018.388, "v": 6.4}, {"s": "Trend fit, 0.20 quantile", "t": 2018.836, "v": 6.7}, {"s": "Trend fit, 0.20 quantile", "t": 2019.669, "v": 6.3}, {"s": "Trend fit, 0.20 quantile", "t": 2020.291, "v": 5.2}, {"s": "Trend fit, 0.20 quantile", "t": 2021.0, "v": 4.8}, {"s": "Trend fit, 0.20 quantile", "t": 2021.7, "v": 4.6}, {"s": "Trend fit, 0.20 quantile", "t": 2022.4, "v": 4.4}, {"s": "Trend fit, 0.20 quantile", "t": 2023.0, "v": 4.1}, {"s": "Trend fit, 0.20 quantile", "t": 2023.4, "v": 4.1}, {"s": "Trend fit, 0.20 quantile", "t": 2023.65, "v": 5.0}, {"s": "Trend fit, 0.20 quantile", "t": 2023.985, "v": 6.2},
      {"s": "Trend fit", "t": 2010.776, "v": 24.2}, {"s": "Trend fit", "t": 2011.211, "v": 20.3}, {"s": "Trend fit", "t": 2011.622, "v": 18.1}, {"s": "Trend fit", "t": 2012.045, "v": 18.4}, {"s": "Trend fit", "t": 2012.667, "v": 20.0}, {"s": "Trend fit", "t": 2013.289, "v": 21.2}, {"s": "Trend fit", "t": 2013.823, "v": 22.3}, {"s": "Trend fit", "t": 2014.321, "v": 21.5}, {"s": "Trend fit", "t": 2014.694, "v": 20.0}, {"s": "Trend fit", "t": 2015.229, "v": 19.5}, {"s": "Trend fit", "t": 2015.776, "v": 19.5}, {"s": "Trend fit", "t": 2016.149, "v": 17.9}, {"s": "Trend fit", "t": 2016.597, "v": 14.8}, {"s": "Trend fit", "t": 2017.095, "v": 13.1}, {"s": "Trend fit", "t": 2017.517, "v": 14.0}, {"s": "Trend fit", "t": 2017.928, "v": 15.8}, {"s": "Trend fit", "t": 2018.637, "v": 16.5}, {"s": "Trend fit", "t": 2019.545, "v": 17.5}, {"s": "Trend fit", "t": 2019.955, "v": 16.1}, {"s": "Trend fit", "t": 2020.453, "v": 13.4}, {"s": "Trend fit", "t": 2021.037, "v": 12.5}, {"s": "Trend fit", "t": 2021.535, "v": 13.4}, {"s": "Trend fit", "t": 2022.157, "v": 13.9}, {"s": "Trend fit", "t": 2022.778, "v": 13.3}, {"s": "Trend fit", "t": 2023.189, "v": 11.7}, {"s": "Trend fit", "t": 2023.488, "v": 11.9}, {"s": "Trend fit", "t": 2023.985, "v": 14.5},
      {"s": "Seasonal fit", "t": 2010.776, "v": 25.4}, {"s": "Seasonal fit", "t": 2010.859, "v": 19.2}, {"s": "Seasonal fit", "t": 2011.053, "v": 29.3}, {"s": "Seasonal fit", "t": 2011.211, "v": 20.5}, {"s": "Seasonal fit", "t": 2011.357, "v": 12.5}, {"s": "Seasonal fit", "t": 2011.622, "v": 19.2}, {"s": "Seasonal fit", "t": 2011.979, "v": 23.6}, {"s": "Seasonal fit", "t": 2012.331, "v": 12.9}, {"s": "Seasonal fit", "t": 2012.663, "v": 20.7}, {"s": "Seasonal fit", "t": 2012.986, "v": 24.5}, {"s": "Seasonal fit", "t": 2013.239, "v": 17.6}, {"s": "Seasonal fit", "t": 2013.422, "v": 14.8}, {"s": "Seasonal fit", "t": 2013.699, "v": 20.7}, {"s": "Seasonal fit", "t": 2014.022, "v": 32.8}, {"s": "Seasonal fit", "t": 2014.28, "v": 15.6}, {"s": "Seasonal fit", "t": 2014.404, "v": 10.9}, {"s": "Seasonal fit", "t": 2014.694, "v": 19.2}, {"s": "Seasonal fit", "t": 2015.042, "v": 25.9}, {"s": "Seasonal fit", "t": 2015.49, "v": 13.9}, {"s": "Seasonal fit", "t": 2015.925, "v": 23.4}, {"s": "Seasonal fit", "t": 2016.435, "v": 12.0}, {"s": "Seasonal fit", "t": 2016.846, "v": 17.2}, {"s": "Seasonal fit", "t": 2017.244, "v": 11.2}, {"s": "Seasonal fit", "t": 2017.517, "v": 12.2}, {"s": "Seasonal fit", "t": 2017.99, "v": 19.5}, {"s": "Seasonal fit", "t": 2018.525, "v": 10.9}, {"s": "Seasonal fit", "t": 2018.932, "v": 22.6}, {"s": "Seasonal fit", "t": 2019.209, "v": 17.2}, {"s": "Seasonal fit", "t": 2019.42, "v": 15.0}, {"s": "Seasonal fit", "t": 2019.595, "v": 11.9}, {"s": "Seasonal fit", "t": 2019.927, "v": 23.6}, {"s": "Seasonal fit", "t": 2020.167, "v": 14.5}, {"s": "Seasonal fit", "t": 2020.573, "v": 9.5}, {"s": "Seasonal fit", "t": 2020.748, "v": 12.9}, {"s": "Seasonal fit", "t": 2020.913, "v": 17.9}, {"s": "Seasonal fit", "t": 2021.323, "v": 10.1}, {"s": "Seasonal fit", "t": 2021.908, "v": 16.7}, {"s": "Seasonal fit", "t": 2022.368, "v": 10.1}, {"s": "Seasonal fit", "t": 2022.754, "v": 16.1}, {"s": "Seasonal fit", "t": 2023.189, "v": 10.5}, {"s": "Seasonal fit", "t": 2023.525, "v": 11.9}, {"s": "Seasonal fit", "t": 2023.649, "v": 11.1}, {"s": "Seasonal fit", "t": 2023.923, "v": 16.7}, {"s": "Seasonal fit", "t": 2023.985, "v": 16.1}
    ]
  },
  "encoding": {
    "x": {"field": "t", "type": "quantitative", "title": null,
      "scale": {"domain": [2010.117, 2024.657], "nice": false, "zero": false},
      "axis": {"values": [2011, 2012, 2013, 2014, 2015, 2016, 2017, 2018, 2019, 2020, 2021, 2022, 2023, 2024], "format": "d", "labelAlign": "left", "labelOffset": 3, "labelPadding": 5, "labelFlush": false, "gridWidth": 1}}
  },
  "layer": [
    {"data": {"name": "band"}, "mark": {"type": "area", "interpolate": "monotone", "color": "#cbcfd1", "opacity": 0.35},
      "encoding": {"y": {"field": "h2", "type": "quantitative", "scale": {"domain": [-3.43, 105.9], "nice": false, "zero": false}, "title": "ethane (ppb)",
        "axis": {"values": [0, 12.5, 25, 37.5, 50, 62.5, 75, 87.5, 100], "labelExpr": "datum.value % 25 === 0 ? datum.label : ''", "labelPadding": 11, "titlePadding": 6, "gridWidth": {"condition": {"test": "datum.value % 25 === 0", "value": 1.1}, "value": 0.5}}},
        "y2": {"field": "h3"}, "detail": {"field": "seg"}}},
    {"data": {"name": "band"}, "mark": {"type": "area", "interpolate": "monotone", "color": "#cbcfd1", "opacity": 0.7},
      "encoding": {"y": {"field": "h1", "type": "quantitative", "scale": {"domain": [-3.43, 105.9], "nice": false, "zero": false}, "title": "ethane (ppb)",
        "axis": {"values": [0, 12.5, 25, 37.5, 50, 62.5, 75, 87.5, 100], "labelExpr": "datum.value % 25 === 0 ? datum.label : ''", "labelPadding": 11, "titlePadding": 6, "gridWidth": {"condition": {"test": "datum.value % 25 === 0", "value": 1.1}, "value": 0.5}}},
        "y2": {"field": "h2"}, "detail": {"field": "seg"}}},
    {"data": {"name": "band"}, "mark": {"type": "area", "interpolate": "monotone", "color": "#cbcfd1", "opacity": 1},
      "encoding": {"y": {"field": "lo", "type": "quantitative", "scale": {"domain": [-3.43, 105.9], "nice": false, "zero": false}, "title": "ethane (ppb)",
        "axis": {"values": [0, 12.5, 25, 37.5, 50, 62.5, 75, 87.5, 100], "labelExpr": "datum.value % 25 === 0 ? datum.label : ''", "labelPadding": 11, "titlePadding": 6, "gridWidth": {"condition": {"test": "datum.value % 25 === 0", "value": 1.1}, "value": 0.5}}},
        "y2": {"field": "h1"}, "detail": {"field": "seg"}}},
    {"data": {"name": "pts"}, "mark": {"type": "circle", "size": 12, "color": "#c2c6c8", "opacity": 1},
      "encoding": {"y": {"field": "v", "type": "quantitative", "scale": {"domain": [-3.43, 105.9], "nice": false, "zero": false}, "title": "ethane (ppb)",
        "axis": {"values": [0, 12.5, 25, 37.5, 50, 62.5, 75, 87.5, 100], "labelExpr": "datum.value % 25 === 0 ? datum.label : ''", "labelPadding": 11, "titlePadding": 6, "gridWidth": {"condition": {"test": "datum.value % 25 === 0", "value": 1.1}, "value": 0.5}}}}},
    {"data": {"name": "fits"}, "mark": {"type": "line", "interpolate": "monotone", "strokeCap": "butt"},
      "encoding": {
        "y": {"field": "v", "type": "quantitative", "scale": {"domain": [-3.43, 105.9], "nice": false, "zero": false}, "title": "ethane (ppb)",
          "axis": {"values": [0, 12.5, 25, 37.5, 50, 62.5, 75, 87.5, 100], "labelExpr": "datum.value % 25 === 0 ? datum.label : ''", "labelPadding": 11, "titlePadding": 6, "gridWidth": {"condition": {"test": "datum.value % 25 === 0", "value": 1.1}, "value": 0.5}}},
        "color": {"field": "s", "type": "nominal",
          "scale": {"domain": ["Seasonal fit", "Trend fit", "Trend fit, 0.20 quantile", "Trend fit, 0.90 quantile", "Trend fit, 0.95 quantile", "Trend fit, 0.98 quantile"],
                    "range": ["#ff1a0a", "#27608f", "#1fa79c", "#1fa59a", "#1fb1a0", "#26b79b"]},
          "legend": {"title": null, "orient": "none", "legendX": 858, "legendY": -14, "symbolType": "stroke", "symbolSize": 900, "labelFontSize": 19, "labelFont": "Liberation Sans", "labelColor": "#000000", "labelOffset": 12, "padding": 17, "rowPadding": 11, "strokeColor": "#000000", "fillColor": "#ffffff", "labelLimit": 400}},
        "strokeWidth": {"field": "s", "type": "nominal",
          "scale": {"type": "ordinal", "domain": ["Seasonal fit", "Trend fit", "Trend fit, 0.20 quantile", "Trend fit, 0.90 quantile", "Trend fit, 0.95 quantile", "Trend fit, 0.98 quantile"],
                    "range": [4.5, 4, 4, 3.5, 2.5, 1.5]},
          "legend": {"title": null, "orient": "none", "legendX": 858, "legendY": -14, "symbolType": "stroke", "symbolSize": 900, "labelFontSize": 19, "labelFont": "Liberation Sans", "labelColor": "#000000", "labelOffset": 12, "padding": 17, "rowPadding": 11, "strokeColor": "#000000", "fillColor": "#ffffff", "labelLimit": 400}}
      }}
  ]
}
